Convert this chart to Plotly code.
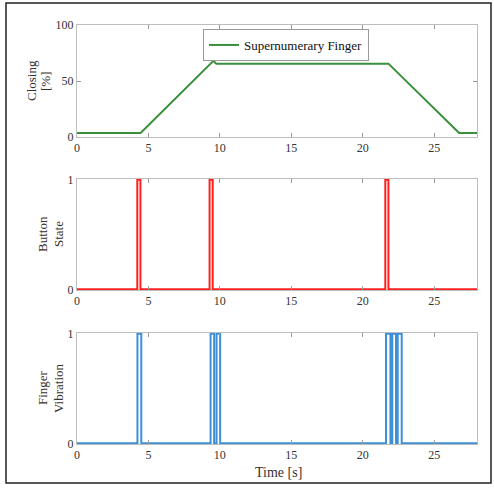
import plotly.graph_objects as go
from plotly.subplots import make_subplots

# ---- data ----
closing_t = [0, 4.45, 9.55, 9.75, 21.8, 26.75, 28]
closing_v = [3.5, 3.5, 68, 65.5, 65.5, 3.5, 3.5]

button_starts = [4.22, 9.28, 21.58]
button_ends = [4.44, 9.50, 21.80]

vib_starts = [4.23, 9.35, 9.77, 21.63, 22.07, 22.45]
vib_ends = [4.50, 9.60, 10.02, 21.94, 22.33, 22.73]

t_end = 28
xticks = [0, 5, 10, 15, 20, 25]


def steps(starts, ends, tmax):
    xs, ys = [0], [0]
    for s, e in zip(starts, ends):
        xs += [s, s, e, e]
        ys += [0, 1, 1, 0]
    xs.append(tmax)
    ys.append(0)
    return xs, ys


bx, by = steps(button_starts, button_ends, t_end)
vx, vy = steps(vib_starts, vib_ends, t_end)

FONT = "Liberation Serif"
W, H = 494, 495
L, R, T, B = 77, 17, 25, 51
ph = H - T - B
pw = W - L - R


def py(y):
    return (H - B - y) / ph


def px(x):
    return (x - L) / pw


fig = make_subplots(rows=3, cols=1)
fig.add_trace(go.Scatter(x=closing_t, y=closing_v, mode="lines",
                         line=dict(color="#3a8f3a", width=2),
                         name="Supernumerary Finger", showlegend=True), row=1, col=1)
fig.add_trace(go.Scatter(x=bx, y=by, mode="lines",
                         line=dict(color="#ff2020", width=2), showlegend=False), row=2, col=1)
fig.add_trace(go.Scatter(x=vx, y=vy, mode="lines",
                         line=dict(color="#3d8fd8", width=2), showlegend=False), row=3, col=1)

domains = [(py(137), py(25)), (py(290), py(179)), (py(444), py(333))]
axis_common = dict(showgrid=False, zeroline=False, showline=True, mirror="ticks",
                   linecolor="#bdbdbd", linewidth=1, ticks="inside", ticklen=4,
                   tickcolor="#9a9a9a", tickfont=dict(family=FONT, size=12, color="#333"))
for i, (d0, d1) in enumerate(domains, start=1):
    fig.update_xaxes(range=[0, t_end], tickvals=xticks, domain=[0, 1], row=i, col=1, **axis_common)
    fig.update_yaxes(domain=[d0, d1], row=i, col=1, **axis_common)

fig.update_yaxes(range=[0, 100], tickvals=[0, 50, 100], row=1, col=1)
fig.update_yaxes(range=[-0.006, 1.006], tickvals=[0, 1], row=2, col=1)
fig.update_yaxes(range=[-0.006, 1.006], tickvals=[0, 1], row=3, col=1)

ann = []
def ylab(text, x, y):
    ann.append(dict(text=text, x=px(x), y=py(y), xref="paper", yref="paper",
                    textangle=-90, showarrow=False, xanchor="center", yanchor="middle",
                    font=dict(family=FONT, size=13, color="#333")))

ylab("Closing", 31, 81)
ylab("[%]", 45, 81)
ylab("Button", 42, 234)
ylab("State", 58, 234)
ylab("Finger", 42, 388)
ylab("Vibration", 58, 388)
ann.append(dict(text="Time [s]", x=px(278), y=py(472), xref="paper", yref="paper",
                showarrow=False, xanchor="center", yanchor="middle",
                font=dict(family=FONT, size=14, color="#333")))

fig.update_layout(
    width=W, height=H,
    margin=dict(l=L, r=R, t=T, b=B),
    paper_bgcolor="white", plot_bgcolor="white",
    annotations=ann,
    showlegend=True,
    legend=dict(x=px(203), y=py(29), xanchor="left", yanchor="top",
                bgcolor="white", bordercolor="#9a9a9a", borderwidth=1,
                font=dict(family=FONT, size=13, color="#111"),
                itemwidth=30, tracegroupgap=0),
    shapes=[dict(type="rect", xref="paper", yref="paper",
                 x0=px(6), x1=px(491), y0=py(483), y1=py(3),
                 line=dict(color="#222", width=1.5))],
)

fig.write_html("out.html")
